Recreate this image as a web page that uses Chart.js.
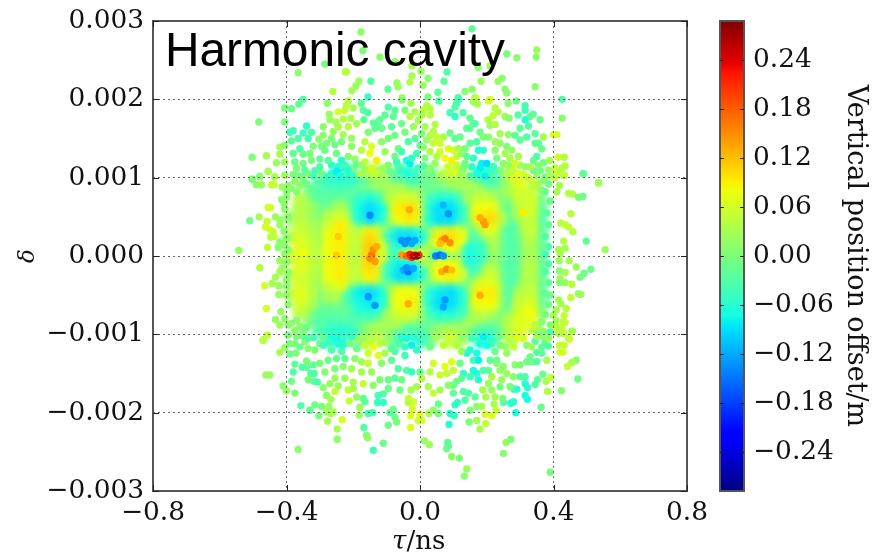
<!DOCTYPE html>
<html>
<head>
<meta charset="utf-8">
<title>Harmonic cavity</title>
<script src="https://cdn.jsdelivr.net/npm/chart.js@4"></script>
<style>
  html, body { margin: 0; padding: 0; background: #fff; }
  canvas { position: absolute; top: 0; }
  #chartPhase { left: 0; }
  #chartBar { left: 700px; }
</style>
</head>
<body>
<canvas id="chartPhase" width="877" height="553"></canvas>
<canvas id="chartBar" width="177" height="553"></canvas>
<script>
// tick labels
var tauTicks = [-0.8, -0.4, 0, 0.4, 0.8];
var deltaTicks = [-0.003, -0.002, -0.001, 0, 0.001, 0.002, 0.003];
var offsetTicks = [-0.24, -0.18, -0.12, -0.06, 0, 0.06, 0.12, 0.18, 0.24];

// dense core of the bunch, read as a table: offset in cm per tau / delta cell
var coreTau = [-.39,-.36,-.33,-.30,-.27,-.24,-.21,-.18,-.15,-.12,-.09,-.06,-.03,0,.03,.06,.09,.12,.15,.18,.21,.24,.27,.30,.33,.36];
var coreDeltaMilli = [1.08,.96,.84,.72,.60,.48,.36,.24,.12,0,-.12,-.24,-.36,-.48,-.60,-.72,-.84,-.96,-1.08];
var coreOffsetCm = [
  [null,null,null,null,null,-8,-6,null,2,3,null,-4,-6,null,-1,null,4,3,null,-6,-7,null,2,null,null,null],
  [null,null,null,-3,-5,-5,-5,-2,1,2,1,-2,-3,-2,-1,1,2,3,2,-2,-3,-2,3,7,null,null],
  [null,null,-1,-3,-3,-3,-2,-1,-1,2,3,3,2,0,-1,-1,0,2,3,2,0,1,3,6,5,null],
  [null,4,0,-2,-2,0,-2,-5,-6,-4,4,6,6,4,-4,-6,-6,-3,3,5,4,0,0,5,6,-1],
  [null,4,2,-1,1,3,0,-7,-9,-7,4,9,10,6,-6,-9,-9,-5,3,8,8,2,-2,4,6,-2],
  [1,4,2,0,4,6,2,-6,-9,-6,4,8,9,6,-6,-9,-9,-5,2,9,10,4,-3,3,5,-3],
  [null,5,3,2,6,9,5,2,7,3,-2,-4,-3,-2,0,4,5,4,-2,3,7,2,-3,1,5,-2],
  [3,6,4,2,8,9,5,5,10,5,-5,-9,-9,-7,2,9,10,8,-3,-1,4,1,-3,0,4,-2],
  [null,7,5,2,8,9,4,5,11,6,-5,-5,-3,0,3,7,8,4,-6,-4,3,1,-3,-1,3,-2],
  [5,7,5,3,8,9,4,4,11,6,-4,3,6,6,-1,-7,-2,1,-7,-5,1,1,-3,-1,3,-2],
  [null,7,5,2,8,9,4,5,10,5,-5,-8,-8,-3,3,8,8,5,-5,-3,3,1,-3,-1,4,-2],
  [3,6,4,2,8,9,5,4,9,4,-5,-9,-9,-6,2,8,9,6,-3,0,5,1,-3,0,4,-2],
  [null,6,4,1,5,7,2,0,2,-1,0,2,2,1,0,-1,-1,0,0,6,7,2,-3,2,4,-2],
  [3,7,4,0,3,3,-4,-8,-9,-7,3,8,8,5,-6,-8,-9,-6,3,9,9,3,-3,3,5,-2],
  [null,6,3,-1,1,1,-3,-7,-8,-6,3,8,9,5,-6,-9,-9,-6,3,8,8,2,-2,5,6,-1],
  [null,4,1,-2,-2,-1,-2,-5,-5,-3,3,6,6,3,-4,-6,-6,-4,2,4,3,0,0,6,8,0],
  [null,null,0,-3,-3,-3,-3,-1,0,2,3,3,2,0,-1,-2,-1,1,3,2,0,0,4,7,7,null],
  [null,null,null,-3,-5,-6,-5,-2,2,3,1,-2,-3,-3,0,2,3,2,-1,-3,-3,-1,3,7,null,null],
  [null,null,null,null,-6,-8,null,-2,3,null,0,-4,null,-6,0,null,5,3,null,-6,-7,null,3,null,null,null]
];

// single particles: [tau/ns, delta x 1000, offset in cm]
var topDots = [
  [-.177,2.86,1],[.156,2.90,-2],[-.171,2.62,0],[-.12,2.54,1],[.26,2.58,0],[.29,2.53,1],[.35,2.63,2],[.348,2.54,1],
  [-.285,2.45,0],[-.075,2.48,1],[-.365,2.34,1],[-.22,2.35,4],[-.224,2.35,4],[-.024,2.43,3],[.003,2.36,2],[.081,2.35,-3],
  [.174,2.41,1],[.21,2.43,2],[-.024,2.30,3],[.024,2.27,1],[.072,2.23,-2],[.183,2.23,2],[.234,2.23,2],[.246,2.27,1],
  [-.03,2.22,4],[-.069,2.21,2],[-.183,2.23,2],[-.147,2.23,-3],[-.192,2.17,2],[-.204,2.11,3],[-.261,2.10,4],[-.096,2.13,-2],
  [-.066,2.16,2],[.009,2.18,2],[.054,2.09,-2],[.156,2.13,1],[.135,2.10,1],[.255,2.13,1],[.26,2.08,1],[.345,2.16,1],
  [.21,2.0,7],[.165,2.02,3],[.114,2.02,-3],[.024,2.03,0],[-.054,2.02,3],[-.156,2.03,-5],[-.35,2.0,-3],[-.363,1.94,-2],
  [-.278,1.95,1],[-.215,1.98,4],[-.221,1.92,4],[-.176,1.95,-2],[-.20,1.89,3],[-.245,1.84,6],[-.225,1.86,5],[-.405,1.89,0],
  [-.385,1.88,-1],[-.483,1.71,0],[-.405,1.71,0],[-.272,1.81,2],[-.27,1.74,2],[-.252,1.71,3],[-.23,1.75,4],[-.207,1.76,3],
  [-.17,1.86,-2],[-.156,1.83,-3],[-.168,1.74,-2],[-.14,1.70,-2],[-.12,1.74,-2],[-.095,1.90,-3],[-.075,1.86,-2],[-.054,1.99,0],
  [-.027,1.95,3],[-.045,1.86,0],[-.015,1.84,3],[-.105,1.80,-2],[-.08,1.78,-2],[-.03,1.78,4],[.006,1.80,3],
  [.057,1.98,-3],[.117,2.0,-4],[.11,1.95,-4],[.105,1.90,-3],[.168,2.01,5],[.16,1.97,3],[.172,1.94,3],[.205,1.98,6],
  [.288,1.98,-1],[.264,1.95,1],[.426,2.0,-3],[.315,1.92,-4],[.315,1.86,-4],[.225,1.89,4],[.234,1.84,4],[.219,1.79,5],
  [.294,1.80,-3],[.339,1.81,-2],[.33,1.78,-2],[.315,1.74,-6],[.255,1.78,2],[.267,1.76,1],[.204,1.74,4],[.36,1.74,-1],
  [.426,1.76,1],[.09,1.83,-4],[.105,1.78,-5],[.129,1.83,-3],[.15,1.76,-2],[.16,1.69,-2],[.14,1.63,-2],
  [.02,1.92,4],[.03,1.88,4],[.01,1.86,4],[.03,1.80,4]
];
var upperLeftDots = [
  [-.38,1.60,-4],[-.39,1.58,-4],[-.34,1.66,-5],[-.325,1.58,-3],[-.35,1.57,-4],[-.335,1.50,-4],[-.365,1.50,-3],[-.385,1.47,-2],
  [-.29,1.65,1],[-.29,1.54,1],[-.303,1.49,1],[-.26,1.59,2],[-.23,1.55,3],[-.215,1.65,4],[-.19,1.69,3],[-.245,1.65,3],
  [-.205,1.50,2],[-.265,1.50,0],[-.235,1.46,0],[-.28,1.44,0],[-.255,1.42,-1],[-.32,1.40,0],[-.295,1.40,0],[-.36,1.37,-3],
  [-.38,1.31,-2],[-.35,1.30,-1],[-.33,1.31,0],[-.285,1.35,-1],[-.205,1.40,1],[-.165,1.46,4],[-.145,1.40,7],[-.175,1.35,4],
  [-.15,1.31,8],[-.13,1.22,9],[-.165,1.20,5],[-.145,1.12,7],[-.195,1.24,2],[-.215,1.27,1],[-.25,1.31,-1],[-.275,1.22,-2],
  [-.30,1.24,-2],[-.325,1.22,0],[-.35,1.18,-1],[-.375,1.20,-1],[-.30,1.14,-3],[-.265,1.16,-5],[-.245,1.14,-6],[-.225,1.16,-4],
  [-.265,1.05,-6],[-.23,1.05,-4],[-.20,1.12,0],[-.18,1.05,3],[-.155,1.05,4],[-.12,1.09,3],[-.095,1.16,0],[-.075,1.27,-1],
  [-.065,1.37,-1],[-.105,1.33,2],[-.115,1.46,1],[-.095,1.50,0],[-.075,1.54,-1],[-.045,1.58,0],[-.02,1.65,2],[-.005,1.73,3],
  [-.115,1.63,-1],[-.135,1.63,-2],[-.155,1.58,0],[-.125,1.71,-2],[-.085,1.65,-2],[-.055,1.69,-1],[-.035,1.46,-3],[-.015,1.50,-2],
  [.005,1.56,0],[-.04,1.22,-7],[-.03,1.18,-8],[-.01,1.31,-4],[-.055,1.33,-4],[0,1.41,-2],[-.065,1.14,-3],[-.005,1.12,-4],
  [-.295,1.05,-1],[-.335,1.05,0],[-.37,1.03,1],[-.38,1.04,0],[-.42,1.39,3],[-.405,1.41,1],[-.42,1.30,3],[-.46,1.28,3],
  [-.503,1.26,0],[-.43,1.19,2],[-.405,1.20,2],[-.455,1.08,4],[-.435,1.01,3],[-.48,1.01,1],[-.503,.98,1],[-.405,1.03,2],
  [-.37,1.12,0],[-.345,1.10,-2],[-.315,1.09,-4],[-.28,1.01,-5],[-.25,1.08,-8],[-.235,1.22,-6],[-.215,1.09,-6],[-.19,1.17,-2],
  [-.165,1.11,3],[-.135,1.05,5],[-.105,1.12,2],[-.08,1.03,-2],[-.07,1.20,-4],[-.04,1.06,-6],[-.015,1.02,-5],[-.055,1.09,-5],
  [-.355,1.02,-1],[-.32,1.02,-4],[-.24,1.02,-7],[-.205,1.02,-5],[-.175,1.16,2],[-.115,1.02,3],[-.09,1.08,-1],[-.025,1.25,-5],
  [-.375,.95,1],[-.36,.90,1],[-.385,.86,1],[-.35,.98,0],[-.34,.92,-1],[-.37,.82,1]
];
var upperRightDots = [
  [.045,1.68,4],[.015,1.65,3],[.04,1.59,4],[.03,1.54,4],[.05,1.52,5],[.07,1.52,3],[.09,1.57,-1],[.105,1.50,-2],
  [.12,1.52,-1],[.02,1.48,2],[.01,1.39,1],[.04,1.44,5],[.06,1.44,6],[.085,1.37,7],[.10,1.35,6],[.115,1.37,3],
  [.06,1.33,6],[.03,1.33,4],[.015,1.25,0],[.05,1.27,4],[.075,1.25,8],[.095,1.22,9],[.11,1.27,5],[.125,1.31,2],
  [.135,1.37,0],[.15,1.44,-2],[.17,1.46,-3],[.19,1.35,-5],[.175,1.35,-6],[.205,1.52,1],[.225,1.46,2],[.24,1.56,3],
  [.265,1.55,1],[.24,1.44,2],[.225,1.35,1],[.26,1.40,0],[.285,1.54,-2],[.30,1.48,-2],[.32,1.52,-3],[.30,1.63,-2],
  [.325,1.66,-3],[.345,1.56,-2],[.355,1.44,-2],[.37,1.52,3],[.345,1.44,-2],[.365,1.37,-1],[.275,1.35,2],[.255,1.31,3],
  [.27,1.25,3],[.295,1.27,3],[.315,1.14,1],[.34,1.22,-1],[.35,1.27,-3],[.37,1.19,-1],[.388,1.22,3],[.405,1.12,5],
  [.36,1.09,-1],[.375,1.01,-1],[.34,1.09,-1],[.30,1.16,3],[.285,1.18,6],[.295,1.05,7],[.28,.99,7],[.14,1.27,-2],
  [.16,1.25,-5],[.185,1.18,-8],[.20,1.18,-9],[.18,1.12,-8],[.155,1.14,-5],[.21,1.05,-5],[.23,1.25,0],[.24,1.09,0],
  [.26,1.05,4],[.13,1.12,0],[.12,1.03,3],[.10,1.07,7],[.07,1.05,5],[.03,1.12,1],[.015,1.03,-1],[.15,1.63,-2],
  [.165,1.69,-3],[.21,1.67,2],[.225,1.68,4],[.18,1.58,-1],[.19,1.52,0],[.40,1.55,6],[.41,1.55,6],
  [.414,1.26,6],[.432,1.26,4],[.435,1.15,4],[.425,1.12,4],[.405,1.12,5],[.405,1.0,5],[.43,1.03,4],[.488,1.05,-1],[.535,.93,5],
  [.01,1.15,-3],[.045,1.18,2],[.06,1.02,3],[.085,1.14,6],[.11,1.16,5],[.15,1.02,-3],[.17,1.05,-7],[.195,1.02,-8],
  [.22,1.14,-4],[.25,1.18,1],[.275,1.10,5],[.31,1.04,6],[.33,1.14,3],[.355,1.16,1],[.35,1.02,2],[.325,1.0,5],
  [.385,1.10,2],[.39,1.02,3],[.035,1.02,-1],[.09,1.02,5],[.135,1.18,-1],[.22,1.02,-3],[.265,1.16,2],
  [.335,.95,5],[.355,.92,3],[.37,.96,1],[.345,.88,4],[.365,.84,1]
];
var lowerLeftDots = [
  [-.457,-1.01,5],[-.47,-1.08,3],[-.42,-1.23,3],[-.405,-1.17,2],[-.39,-1.12,0],[-.39,-1.25,-1],[-.372,-1.24,0],[-.375,-1.12,0],
  [-.345,-1.09,1],[-.335,-1.18,1],[-.315,-1.20,0],[-.30,-1.12,-1],[-.27,-1.09,-5],[-.245,-1.12,-6],[-.23,-1.03,-5],[-.25,-.97,-5],
  [-.29,-1.03,-2],[-.265,-1.20,-3],[-.235,-1.22,-3],[-.21,-1.12,0],[-.185,-1.07,2],[-.165,-1.14,5],[-.14,-1.16,8],[-.12,-1.12,5],
  [-.155,-1.24,6],[-.125,-1.27,7],[-.175,-1.35,3],[-.155,-1.37,5],[-.195,-1.31,1],[-.225,-1.31,-2],[-.25,-1.31,-2],[-.275,-1.33,-1],
  [-.30,-1.37,0],[-.32,-1.39,-2],[-.34,-1.34,0],[-.375,-1.38,-2],[-.38,-1.48,-3],[-.353,-1.42,-3],[-.34,-1.42,-2],[-.327,-1.50,-3],
  [-.317,-1.50,-3],[-.285,-1.48,1],[-.255,-1.44,0],[-.23,-1.41,1],[-.205,-1.44,3],[-.175,-1.48,3],[-.145,-1.48,2],[-.115,-1.37,1],
  [-.085,-1.33,-2],[-.045,-1.27,-4],[-.025,-1.14,-8],[-.04,-1.05,-7],[-.065,-1.12,-3],[-.085,-1.18,-2],[-.105,-1.24,3],[-.065,-1.44,-3],
  [-.04,-1.46,-3],[-.025,-1.48,-5],[0,-1.48,-2],[-.462,-1.52,2],[-.45,-1.52,2],[-.335,-1.58,0],[-.317,-1.60,-3],[-.307,-1.61,-3],
  [-.255,-1.56,2],[-.29,-1.68,1],[-.27,-1.63,2],[-.245,-1.66,2],[-.255,-1.73,5],[-.225,-1.56,2],[-.20,-1.61,3],[-.215,-1.71,5],
  [-.20,-1.69,3],[-.17,-1.63,5],[-.14,-1.65,1],[-.12,-1.58,0],[-.095,-1.58,-1],[-.075,-1.56,-2],[-.055,-1.58,-1],[-.28,-1.78,1],
  [-.267,-1.83,3],[-.212,-1.85,5],[-.19,-1.80,2],[-.17,-1.82,-2],[-.165,-1.86,-2],[-.125,-1.78,-4],[-.11,-1.76,-3],[-.095,-1.69,-1],
  [-.06,-1.71,-1],[-.027,-1.71,3],[-.01,-1.67,3],[-.035,-1.82,5],[-.02,-1.86,6],[-.357,-1.91,-3],[-.315,-1.90,-1],[-.295,-1.92,0],
  [-.273,-1.92,2],[-.18,-1.93,2],[-.127,-1.87,-5],[-.11,-1.87,-5],[-.035,-1.87,4],[-.33,-1.97,-2],[-.28,-1.99,2],[-.26,-1.99,3],
  [-.155,-2.01,-4],[-.142,-2.0,-4],[-.09,-2.0,-3],[-.08,-1.96,-1],[-.023,-1.95,6],[-.303,-2.04,0],[-.267,-2.01,3],[-.182,-2.03,2],
  [-.075,-2.06,-1],[-.028,-2.04,7],[0,-2.02,7],[-.233,-2.09,6],[-.277,-2.11,3],[-.07,-2.12,0],[-.005,-2.10,6],[-.168,-2.19,-3],
  [-.095,-2.16,-1],[-.028,-2.19,7],[-.248,-2.21,3],[-.385,-1.6,-1],[-.4,-1.72,2],[-.41,-1.66,1],[-.375,-1.75,0],
  [-.37,-1.03,0],[-.35,-1.02,-2],[-.32,-1.04,-4],[-.29,-1.14,-4],[-.26,-1.03,-7],[-.23,-1.14,-6],[-.205,-1.03,-5],[-.19,-1.18,-1],
  [-.17,-1.03,2],[-.15,-1.08,5],[-.125,-1.03,5],[-.105,-1.10,3],[-.09,-1.03,1],[-.075,-1.22,-3],[-.055,-1.03,-6],[-.02,-1.03,-6],
  [-.01,-1.20,-5],[-.045,-1.16,-5],[-.36,-1.16,-1],[-.335,-1.05,-3],
  [-.375,-.95,1],[-.36,-.90,1],[-.385,-.86,1],[-.35,-.98,0],[-.34,-.92,-1],[-.37,-.82,1]
];
var lowerRightDots = [
  [.43,-.98,5],[.457,-.96,3],[.39,-.97,-3],[.355,-.98,-1],[.418,-1.14,5],[.432,-1.14,5],[.448,-1.06,6],[.42,-1.23,6],
  [.428,-1.23,6],[.345,-1.09,-3],[.375,-1.09,-2],[.385,-1.15,-3],[.365,-1.16,-2],[.35,-1.23,-3],[.365,-1.24,-2],[.38,-1.33,3],
  [.335,-1.35,-1],[.32,-1.35,-1],[.35,-1.35,-3],[.33,-1.29,-1],[.30,-1.39,0],[.285,-1.39,1],[.468,-1.33,1],[.455,-1.36,3],
  [.442,-1.41,5],[.473,-1.57,-1],[.368,-1.51,-1],[.352,-1.58,-2],[.345,-1.64,-3],[.378,-1.60,3],[.392,-1.55,5],[.382,-1.73,4],
  [.424,-1.72,1],[.315,-1.63,-6],[.322,-1.68,-6],[.29,-1.70,-6],[.282,-1.70,-5],[.315,-1.78,-7],[.322,-1.83,-7],[.28,-1.86,-6],
  [.272,-1.88,-6],[.25,-1.87,-3],[.248,-1.82,0],[.225,-1.80,3],[.222,-1.89,3],[.197,-1.80,3],[.188,-1.71,3],[.228,-1.97,5],
  [.215,-2.04,7],[.195,-2.02,6],[.287,-2.0,-7],[.363,-1.93,-1],[.215,-1.71,2],[.24,-1.67,0],[.245,-1.58,2],[.27,-1.67,0],
  [.205,-1.63,2],[.215,-1.54,3],[.24,-1.46,2],[.26,-1.50,2],[.30,-1.54,-3],[.315,-1.54,-3],[.28,-1.54,1],[.25,-1.41,1],
  [.23,-1.37,1],[.205,-1.46,-2],[.17,-1.50,-6],[.19,-1.46,-3],[.16,-1.46,-7],[.13,-1.50,-5],[.175,-1.58,-6],[.15,-1.54,-4],
  [.125,-1.56,-2],[.11,-1.60,-1],[.10,-1.65,-1],[.085,-1.65,1],[.06,-1.71,3],[.04,-1.75,5],[.025,-1.67,3],[.005,-1.56,4],
  [.13,-1.73,-3],[.145,-1.75,-3],[.165,-1.80,-2],[.105,-1.90,-5],[.112,-1.87,-5],[.135,-1.84,-3],[.17,-1.92,1],[.185,-1.92,3],
  [.15,-1.97,0],[.055,-1.89,-1],[.04,-1.97,1],[.027,-2.01,3],[.055,-2.01,0],[.09,-2.01,-6],[.103,-2.04,-5],[.087,-2.15,-6],
  [.147,-2.12,0],[.17,-2.10,3],[.197,-2.14,5],[.005,-2.10,6],[.18,-2.21,3],[.10,-1.75,-2],[.06,-1.52,5],[.08,-1.50,5],
  [.075,-1.41,7],[.095,-1.35,7],[.04,-1.37,6],[.03,-1.48,4],[.10,-1.46,5],[.12,-1.37,-1],[.14,-1.24,-7],[.16,-1.33,-4],
  [.175,-1.33,-8],[.17,-1.24,-7],[.20,-1.14,-7],[.18,-1.12,-7],[.15,-1.20,-6],[.24,-1.14,0],[.26,-1.24,2],[.28,-1.16,5],
  [.29,-1.05,7],[.32,-1.14,1],[.23,-1.33,-1],[.21,-1.33,-2],
  [.013,-2.36,2],[.028,-2.41,2],[.083,-2.38,-2],[.085,-2.43,-2],[.08,-2.46,-1],[.258,-2.38,2],[.25,-2.52,1],[.272,-2.34,0],
  [.095,-2.56,1],[.118,-2.58,0],[.14,-2.72,2],[.133,-2.81,1],[.39,-2.76,0],[-.11,-2.39,-1],[-.14,-2.48,-4],[-.248,-2.34,1],
  [-.365,-2.47,1],[-.157,-2.32,2],[-.16,-2.29,1],
  [.01,-1.05,-4],[.03,-1.16,-1],[.05,-1.03,3],[.07,-1.14,5],[.09,-1.03,6],[.11,-1.14,4],[.13,-1.04,1],[.155,-1.05,-4],
  [.19,-1.03,-8],[.215,-1.12,-4],[.235,-1.03,-1],[.255,-1.16,2],[.27,-1.03,5],[.31,-1.05,6],[.335,-1.16,3],[.35,-1.03,2],
  [.37,-1.03,1],[.385,-1.05,2],[.125,-1.22,2],[.225,-1.22,-1],
  [.335,-.95,5],[.355,-.92,3],[.37,-.96,1],[.345,-.88,4],[.365,-.84,1]
];
var leftDots = [
  [-.455,1.08,3],[-.48,1.02,1],[-.503,.98,0],[-.435,1.01,3],[-.49,.91,1],[-.475,.91,2],[-.445,.91,5],[-.437,.91,5],
  [-.413,.88,2],[-.40,.82,1],[-.415,.72,1],[-.407,.67,1],[-.455,.62,6],[-.448,.62,6],[-.482,.50,3],[-.51,.45,-1],
  [-.433,.50,2],[-.42,.46,2],[-.458,.44,5],[-.463,.37,6],[-.45,.34,6],[-.42,.40,2],[-.407,.32,1],[-.44,.31,5],
  [-.437,.25,5],[-.447,.24,4],[-.42,.18,1],[-.407,.14,1],[-.425,.11,1],[-.457,.11,5],[-.543,.07,2],[-.405,.03,1],
  [-.42,-.06,2],[-.48,-.15,4],[-.413,-.16,2],[-.42,-.20,3],[-.433,-.27,3],[-.423,-.38,2],[-.443,-.35,3],[-.465,-.38,6],
  [-.40,-.31,1],[-.40,-.38,1],[-.423,-.49,2],[-.46,-.67,6],[-.417,-.71,2],[-.433,-.81,2],[-.42,-.88,2],[-.457,-1.01,5],
  [-.395,-1.01,0],[-.47,-1.07,4],
  [-.395,.90,1],[-.405,.60,1],[-.395,.50,1],[-.40,.22,1],[-.395,.08,1],[-.40,-.08,1],[-.395,-.22,1],[-.40,-.50,1],
  [-.395,-.62,1],[-.405,-.80,1],[-.395,-.88,1],[-.40,.75,1]
];
var rightDots = [
  [.49,1.05,-2],[.535,.94,2],[.433,1.03,5],[.41,1.06,5],[.418,.90,3],[.41,.82,3],[.445,.80,4],[.457,.79,4],
  [.475,.75,0],[.488,.76,-1],[.452,.54,4],[.422,.42,4],[.435,.40,5],[.445,.37,5],[.458,.31,4],[.498,.19,-2],
  [.555,.08,2],[.43,.19,4],[.415,.08,3],[.435,.10,3],[.42,.03,3],[.417,-.06,2],[.447,-.06,3],[.468,-.14,2],
  [.512,-.17,-1],[.492,-.22,-1],[.48,-.27,0],[.418,-.19,1],[.435,-.21,3],[.42,-.29,2],[.418,-.34,1],[.435,-.34,2],
  [.455,-.36,4],[.452,-.53,5],[.475,-.48,2],[.482,-.49,2],[.415,-.56,3],[.422,-.61,3],[.408,-.69,3],[.438,-.67,4],
  [.432,-.76,5],[.40,-.76,3],[.408,-.83,3],[.43,-.84,4],[.435,-.85,5],[.425,-.91,5],[.455,-.96,3],[.408,-.91,4],
  [.43,-.99,5],[.445,-1.05,5],[.415,-.99,4],
  [.385,.92,-1],[.39,.70,-1],[.38,.55,-2],[.385,.40,-2],[.375,.25,-3],[.385,.12,-3],[.375,.02,-4],[.385,-.10,-3],
  [.375,-.20,-3],[.385,-.34,-2],[.375,-.48,-2],[.385,-.62,-1],[.375,-.75,0],[.39,-.88,1],[.375,.82,-1],[.39,-.50,-1]
];
// sharper structure right at the centre, over the core table
var centreDots = [
  [-.055,.01,14],[-.04,0,17],[-.025,-.02,20],[-.03,.02,22],[-.02,0,26],[-.015,.01,24],[-.003,.01,21],[-.01,0,27],
  [-.055,.20,-13],[-.035,.20,-14],[-.015,.20,-12],[-.045,.16,-13],[-.025,.16,-12],[-.05,-.18,-12],[-.035,-.20,-15],[-.02,-.16,-12],[-.04,-.15,-13],
  [.047,0,-14],[.06,.01,-16],[.07,0,-13],[.065,.20,14],[.075,.22,16],[.09,.17,15],[.06,.16,12],[.065,-.20,13],[.08,-.17,15],[.095,-.18,12],
  [-.145,.01,17],[-.14,.08,15],[-.15,-.03,15],[-.135,-.07,14],[-.13,.12,13],[-.032,.59,13],[.19,.44,14],[.18,.49,13],[.195,.40,14],
  [-.035,-.61,13],[.18,-.50,13],[.085,.54,-13],[.07,.65,-11],[-.15,.52,-14],[-.155,-.52,-13],[-.135,-.63,-13],[.075,-.56,-13],[.07,-.65,-12],
  [-.245,.25,11],[-.25,.01,11],[-.35,.05,8],[.31,.56,9]
];

var offsetRange = 0.2877;

function lerpKnots(k, t) {
    for (var i = 1; i < k.length; i++) {
        if (t <= k[i][0]) {
            return k[i-1][1] + (k[i][1] - k[i-1][1]) * (t - k[i-1][0]) / (k[i][0] - k[i-1][0]);
        }
    }
    return k[k.length-1][1];
}

// jet colormap
function jet(t) {
    var r = lerpKnots([[0,0],[.35,0],[.66,1],[.89,1],[1,.5]], t);
    var g = lerpKnots([[0,0],[.125,0],[.375,1],[.64,1],[.91,0],[1,0]], t);
    var b = lerpKnots([[0,.5],[.11,1],[.34,1],[.65,0],[1,0]], t);
    return 'rgb(' + Math.round(r*255) + ',' + Math.round(g*255) + ',' + Math.round(b*255) + ')';
}
function offsetColor(v) {
    return jet((v + offsetRange) / (2 * offsetRange));
}

var corePoints = [];
coreOffsetCm.forEach(function(row, i) {
    row.forEach(function(v, j) {
        if (v !== null) corePoints.push({ x: coreTau[j], y: coreDeltaMilli[i] / 1000, v: v / 100 });
    });
});
corePoints.sort(function(a, b) { return Math.abs(a.v) - Math.abs(b.v); });

var dotPoints = [].concat(topDots, upperLeftDots, upperRightDots, lowerLeftDots, lowerRightDots, leftDots, rightDots, centreDots)
    .map(function(d) { return { x: d[0], y: d[1] / 1000, v: d[2] / 100 }; });

var serif = '"DejaVu Serif", serif';
var tickSize = 26.4;

function minusLabel(v, digits) {
    var s = Math.abs(v).toFixed(digits);
    return v < -1e-9 ? '\u2212' + s : s;
}

// the core table is drawn soft, the picture has no visible cells there
var softCorePlugin = {
    id: 'softCore',
    beforeDatasetDraw: function(chart, args) {
        if (args.index === 0) chart.ctx.filter = 'blur(3px)';
    },
    afterDatasetDraw: function(chart, args) {
        if (args.index === 0) chart.ctx.filter = 'none';
    }
};

var framePlugin = {
    id: 'frame',
    afterDraw: function(chart) {
        var c = chart.ctx, a = chart.chartArea;
        c.save();
        c.strokeStyle = '#555';
        c.lineWidth = 2;
        c.strokeRect(a.left, a.top, a.right - a.left, a.bottom - a.top);
        c.strokeStyle = '#222';
        c.lineWidth = 1;
        var opts = chart.options.plugins.frame;
        if (opts.main) {
            tauTicks.forEach(function(t) {
                var x = Math.round(chart.scales.x.getPixelForValue(t)) + 0.5;
                c.beginPath(); c.moveTo(x, a.bottom); c.lineTo(x, a.bottom - 6);
                c.moveTo(x, a.top); c.lineTo(x, a.top + 6); c.stroke();
            });
            deltaTicks.forEach(function(t) {
                var y = Math.round(chart.scales.y.getPixelForValue(t)) + 0.5;
                c.beginPath(); c.moveTo(a.left, y); c.lineTo(a.left + 6, y);
                c.moveTo(a.right, y); c.lineTo(a.right - 6, y); c.stroke();
            });
            c.fillStyle = '#000';
            c.textBaseline = 'alphabetic';
            c.textAlign = 'left';
            c.font = '47.8px "Liberation Sans"';
            c.fillText('Harmonic cavity', 165, 66);
            // x label: italic tau followed by upright unit
            c.fillStyle = '#111';
            c.font = 'italic 26px ' + serif;
            c.fillText('\u03c4', 392, 549);
            var w = c.measureText('\u03c4').width;
            c.font = '26px ' + serif;
            c.fillText('/ns', 392 + w, 549);
        } else {
            offsetTicks.forEach(function(t) {
                var y = Math.round(chart.scales.y.getPixelForValue(t)) + 0.5;
                c.beginPath(); c.moveTo(a.left, y); c.lineTo(a.left + 4, y);
                c.moveTo(a.right, y); c.lineTo(a.right - 4, y); c.stroke();
            });
        }
        c.restore();
    }
};

new Chart(document.getElementById('chartPhase'), {
    type: 'scatter',
    data: {
        datasets: [
            {
                label: 'core',
                data: corePoints,
                order: 2,
                pointRadius: 8,
                pointBorderWidth: 0,
                pointBackgroundColor: corePoints.map(function(p) { return offsetColor(p.v); })
            },
            {
                label: 'particles',
                data: dotPoints,
                order: 1,
                pointRadius: 3.7,
                pointBorderWidth: 0,
                pointBackgroundColor: dotPoints.map(function(p) { return offsetColor(p.v); })
            }
        ]
    },
    options: {
        responsive: false,
        animation: false,
        layout: { autoPadding: false, padding: { top: 21, right: 190, left: 0, bottom: 0 } },
        plugins: {
            legend: { display: false },
            tooltip: { enabled: false },
            frame: { main: true }
        },
        scales: {
            x: {
                type: 'linear',
                min: -0.8,
                max: 0.8,
                afterBuildTicks: function(s) { s.ticks = tauTicks.map(function(t) { return { value: t }; }); },
                afterFit: function(s) { s.height = 62; s.paddingLeft = 0; s.paddingRight = 0; },
                grid: { color: '#666', lineWidth: 1, tickLength: 0, drawTicks: false, z: 1 },
                border: { display: false, dash: [2, 3] },
                ticks: {
                    color: '#111',
                    font: { family: serif, size: tickSize },
                    padding: 6,
                    maxRotation: 0,
                    autoSkip: false,
                    callback: function(v) { return minusLabel(v, 1); }
                }
            },
            y: {
                type: 'linear',
                min: -0.003,
                max: 0.003,
                afterBuildTicks: function(s) { s.ticks = deltaTicks.map(function(t) { return { value: t }; }); },
                afterFit: function(s) { s.width = 153; s.paddingTop = 0; s.paddingBottom = 0; },
                grid: { color: '#666', lineWidth: 1, tickLength: 0, drawTicks: false, z: 1 },
                border: { display: false, dash: [2, 3] },
                ticks: {
                    color: '#111',
                    font: { family: serif, size: tickSize },
                    padding: 9,
                    autoSkip: false,
                    callback: function(v) { return minusLabel(v, 3); }
                },
                title: {
                    display: true,
                    text: '\u03b4',
                    color: '#111',
                    font: { family: serif, size: 23, style: 'italic' },
                    padding: { top: 14, bottom: 0 }
                }
            }
        }
    },
    plugins: [softCorePlugin, framePlugin]
});

// colour bar: one floating bar over the full range, filled with the colormap
function barGradient(ctx) {
    var chart = ctx.chart, a = chart.chartArea;
    if (!a) return '#000';
    var g = chart.ctx.createLinearGradient(0, a.bottom, 0, a.top);
    [0,.11,.125,.34,.35,.375,.64,.65,.66,.89,.91,1].forEach(function(t) { g.addColorStop(t, jet(t)); });
    return g;
}

new Chart(document.getElementById('chartBar'), {
    type: 'bar',
    data: {
        labels: ['offset'],
        datasets: [{
            data: [[-offsetRange, offsetRange]],
            backgroundColor: barGradient,
            borderWidth: 0,
            barPercentage: 1,
            categoryPercentage: 1
        }]
    },
    options: {
        responsive: false,
        animation: false,
        layout: { autoPadding: false, padding: { top: 21, bottom: 62, left: 20, right: 0 } },
        plugins: {
            legend: { display: false },
            tooltip: { enabled: false },
            frame: { main: false }
        },
        scales: {
            x: { display: false },
            y: {
                position: 'right',
                min: -offsetRange,
                max: offsetRange,
                afterBuildTicks: function(s) { s.ticks = offsetTicks.map(function(t) { return { value: t }; }); },
                afterFit: function(s) { s.width = 133; s.paddingTop = 0; s.paddingBottom = 0; },
                grid: { display: false, drawTicks: false },
                border: { display: false },
                ticks: {
                    color: '#111',
                    font: { family: serif, size: tickSize },
                    padding: 9,
                    autoSkip: false,
                    callback: function(v) { return minusLabel(v, 2); }
                },
                title: {
                    display: true,
                    text: 'Vertical position offset/m',
                    color: '#111',
                    font: { family: serif, size: 27 },
                    padding: 6
                }
            }
        }
    },
    plugins: [framePlugin]
});
</script>
</body>
</html>
